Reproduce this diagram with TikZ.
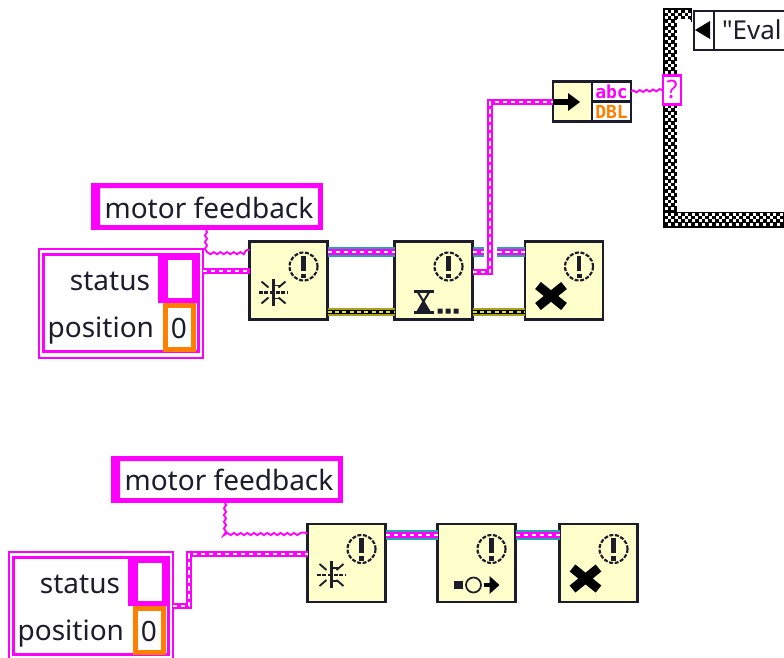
\documentclass[tikz,border=0pt]{standalone}
\usepackage{fontspec}
\setmainfont{Noto Sans}
\newfontfamily\plainfont{Noto Sans}
\newfontfamily\iconfont{DejaVu Sans Mono}
\usetikzlibrary{decorations.pathmorphing}
\definecolor{mag}{HTML}{FF00FF}
\definecolor{org}{HTML}{FF8000}
\definecolor{tealw}{HTML}{22A6A6}
\definecolor{fnfill}{HTML}{FFFFCC}
\definecolor{ink}{HTML}{1C1C2C}
\definecolor{olive}{HTML}{A8A020}
\definecolor{errw}{HTML}{E8E020}
\def\pxu{0.75pt}
\tikzset{
  x=0.75pt,y=-0.75pt,
  fnbox/.style={draw=ink,fill=fnfill,line width=2pt,minimum width=78*\pxu,minimum height=78*\pxu,inner sep=0pt,outer sep=0pt},
  lbl/.style={text=ink,font=\fontsize{21}{22}\selectfont,inner sep=0pt,outer sep=0pt},
  zero/.style={draw=org,fill=white,line width=3.8pt,minimum width=28*\pxu,minimum height=44*\pxu,inner sep=0pt},
  statbox/.style={draw=mag,fill=white,line width=3.8pt,minimum width=31*\pxu,minimum height=43*\pxu,inner sep=0pt},
  thickwire/.style={draw=mag,line width=5pt,line join=miter,postaction={draw=white,line width=1.8pt,dash pattern=on 3.5pt off 2.5pt}},
  bundlewire/.style={draw=tealw,line width=7.8pt,postaction={draw=mag,line width=4.8pt},postaction={draw=white,line width=1.8pt,dash pattern=on 3.5pt off 2.5pt}},
  errwire/.style={draw=olive,line width=5.5pt,postaction={draw=black,line width=3.2pt},postaction={draw=errw,line width=1.7pt,dash pattern=on 3pt off 2.5pt}},
  thinwire/.style={draw=mag,line width=1.4pt,decorate,decoration={snake,segment length=5pt,amplitude=0.8pt}},
  clusterbox/.style={draw=mag,line width=1.5pt,fill=white,inner sep=0pt,outer sep=0pt},
  clusterin/.style={draw=mag,line width=1.6pt,fill=white,inner sep=0pt,outer sep=0pt},
  typebox/.style={draw=ink,fill=white,line width=1.6pt,minimum width=39*\pxu,minimum height=20*\pxu,inner sep=0pt,outer sep=0pt,font=\iconfont\bfseries\fontsize{13.5}{14}\selectfont},
}
% error-terminal icon, relative to the top left corner of a function box
\newcommand{\errmark}{%
  \draw[draw=ink,line width=1.6pt,dash pattern=on 3pt off 1.2pt] (54,25) circle (14);
  \draw[draw=ink,line width=3.6pt] (54,14) -- (54,29);
  \fill[ink] (51.5,32) rectangle (56.5,36.5);
}
\newcommand{\starmark}{%
  \draw[ink,line width=2pt] (24,37) -- (24,64);
  \draw[ink,line width=1.6pt,dash pattern=on 3pt off 1.3pt] (9,51) -- (38,51);
  \draw[ink,line width=1.4pt] (12,40) -- (19,46) (36,40) -- (29,46) (12,62) -- (19,56) (36,62) -- (29,56);
  \draw[ink,line width=1.4pt] (24,44) -- (30,44) (24,57) -- (30,57);
}
\newcommand{\xmark}{%
  \draw[black,line width=6.8pt] (13,44) -- (39,65) (39,44) -- (13,65);
}
\newcommand{\hatchband}[4]{% columns, rows, left, top
  \foreach \cx in {0,...,#1} \foreach \cy in {0,...,#2} {
    \pgfmathparse{int(mod(\cx+\cy,2))}
    \ifnum\pgfmathresult=0 \fill[white] (#3+3.4*\cx,#4+3.4*\cy) rectangle ++(3.1,3.1); \fi
  }
}
\begin{document}
\begin{tikzpicture}
\useasboundingbox (0,0) rectangle (784,657);
\clip (0,0) rectangle (784,657);
\fill[white] (0,0) rectangle (784,657);

% ---------- case structure
\fill[black] (663,8) rectangle (784,228);
\fill[white] (677,22) rectangle (784,212);
\fill[white] (692,7) rectangle (784,22);
\hatchband{3}{58}{664.5}{9.5}
\hatchband{35}{3}{664.5}{212.5}
\hatchband{7}{3}{664.5}{9.5}
\fill[white] (677,19) rectangle (690,24);
% selector label
\node[draw=ink,fill=white,line width=1.6pt,minimum width=100*\pxu,minimum height=39*\pxu,inner sep=0pt,anchor=north west] (sel) at (693,10) {};
\node[draw=ink,fill=white,line width=1.6pt,minimum width=20*\pxu,minimum height=39*\pxu,inner sep=0pt,anchor=north west] (selarrow) at (693,10) {};
\fill[black] (695,30) -- (710,21) -- (710,39) -- cycle;
\node[anchor=base west,text=ink,font=\fontsize{19.5}{20}\selectfont,inner sep=0pt,outer sep=0pt] (seltext) at (722,39) {\plainfont "Eval};
% selector terminal
\node[draw=mag,fill=white,line width=1.7pt,minimum width=18*\pxu,minimum height=29*\pxu,inner sep=0pt,text=mag,font=\fontsize{19}{20}\selectfont] (term) at (672,90) {?};

% ---------- upper diagram nodes
\node[draw=mag,fill=white,line width=1pt,minimum width=230*\pxu,minimum height=45*\pxu,inner sep=0pt,outer sep=0pt] (mf1) at (207,206.5) {};
\fill[mag] (92,184) rectangle (100,229) (92,184) rectangle (322,188) (92,225) rectangle (322,229) (318,184) rectangle (322,229);
\node[lbl,anchor=base] (mf1t) at (209,218) {motor feedback};

\node[clusterbox,minimum width=164*\pxu,minimum height=109*\pxu] (cl1) at (120.5,303) {};
\node[clusterin,minimum width=155*\pxu,minimum height=97*\pxu] (cl1i) at (121,303) {};
\node[statbox] (st1) at (178.75,279) {};
\fill[mag] (158,255) rectangle (168,303);
\node[zero] (po1) at (179.5,327.5) {};
\node[anchor=base,text=ink,font=\fontsize{21}{22}\selectfont,inner sep=0pt] (po1v) at (179,338) {0};
\node[lbl,anchor=base east] (st1t) at (150,290) {status};
\node[lbl,anchor=base east] (po1t) at (154,337) {position};

\node[fnbox] (b1) at (288.5,280.5) {};
\node[fnbox] (b2) at (433.5,280.5) {};
\node[fnbox] (b3) at (564,280.5) {};
\node[draw=ink,fill=fnfill,line width=2pt,minimum width=78*\pxu,minimum height=40*\pxu,inner sep=0pt,outer sep=0pt] (cv) at (592,101.5) {};
\node[typebox,text=mag] (cvabc) at (611.5,91.5) {abc};
\node[typebox,text=org] (cvdbl) at (611.5,111.5) {DBL};

% upper wires
\coordinate (gapa) at (484,252);
\coordinate (gapb) at (497,252);
\draw[thinwire] (206,230) -- (206,250) -- (b1.west |- 0,250);
\draw[thickwire] (cl1.east |- 0,271) -- (b1.west |- 0,271);
\draw[bundlewire] (b1.east |- 0,252) -- (b2.west |- 0,252);
\draw[errwire] (b1.east |- 0,312) -- (b2.west |- 0,312);
\draw[bundlewire] (b2.east |- 0,252) -- (gapa);
\draw[bundlewire] (gapb) -- (b3.west |- 0,252);
\draw[errwire] (b2.east |- 0,312) -- (b3.west |- 0,312);
\draw[thickwire] (b2.east |- 0,272) -- (490,272) -- (490,102) -- (cv.west |- 0,102);
\draw[thinwire] (cvabc.east) -- (term.west);
\draw[black,line width=4pt] (cv.west |- 0,102) -- (570,102);
\fill[black] (568,93) -- (580,102) -- (568,111) -- cycle;

% upper icons
\begin{scope}[shift={(b1.north west)}] \errmark \starmark \end{scope}
\begin{scope}[shift={(b2.north west)}]
  \errmark
  \draw[ink,line width=1.7pt] (19,50) -- (39,50) (19,71) -- (39,71);
  \draw[ink,line width=1.5pt] (23,50) -- (35,70) (35,50) -- (23,70);
  \fill[ink] (29,61) -- (36,71) -- (22,71) -- cycle;
  \fill[ink] (43,67) rectangle (48,72) (51,67) rectangle (56,72) (59,67) rectangle (64,72);
\end{scope}
\begin{scope}[shift={(b3.north west)}] \errmark \xmark \end{scope}

% ---------- lower diagram nodes
\node[draw=mag,fill=white,line width=1pt,minimum width=230*\pxu,minimum height=45*\pxu,inner sep=0pt,outer sep=0pt] (mf2) at (227,479.5) {};
\fill[mag] (112,457) rectangle (120,502) (112,457) rectangle (342,461) (112,498) rectangle (342,502) (338,457) rectangle (342,502);
\node[lbl,anchor=base] (mf2t) at (229,490) {motor feedback};

\node[clusterbox,minimum width=164*\pxu,minimum height=109*\pxu] (cl2) at (90.5,606) {};
\node[clusterin,minimum width=155*\pxu,minimum height=97*\pxu] (cl2i) at (91,606) {};
\node[statbox] (st2) at (148.75,582) {};
\fill[mag] (128,558) rectangle (138,606);
\node[zero] (po2) at (149.5,630.5) {};
\node[anchor=base,text=ink,font=\fontsize{21}{22}\selectfont,inner sep=0pt] (po2v) at (149,641) {0};
\node[lbl,anchor=base east] (st2t) at (120,593) {status};
\node[lbl,anchor=base east] (po2t) at (124,640) {position};

\node[fnbox] (b4) at (346.5,563) {};
\node[fnbox] (b5) at (476.5,563) {};
\node[fnbox] (b6) at (598.5,563) {};

% lower wires
\draw[thinwire] (225,503) -- (225,533) -- (b4.west |- 0,533);
\draw[thickwire] (cl2.east |- 0,606) -- (189,606) -- (189,554) -- (b4.west |- 0,554);
\draw[bundlewire] (b4.east |- 0,535) -- (b5.west |- 0,535);
\draw[bundlewire] (b5.east |- 0,535) -- (b6.west |- 0,535);

% lower icons
\begin{scope}[shift={(b4.north west)}] \errmark \starmark \end{scope}
\begin{scope}[shift={(b5.north west)}]
  \errmark
  \fill[ink] (16,57) rectangle (25,65);
  \draw[ink,line width=1.3pt] (36,61) circle (7.5);
  \draw[black,line width=3.4pt] (46,61) -- (54,61);
  \fill[black] (52,52) -- (62,61) -- (52,70) -- cycle;
\end{scope}
\begin{scope}[shift={(b6.north west)}] \errmark \xmark \end{scope}
\end{tikzpicture}
\end{document}
